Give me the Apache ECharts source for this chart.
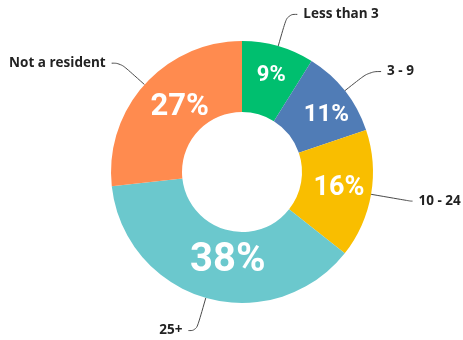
<!DOCTYPE html>
<html>
<head>
<meta charset="utf-8">
<script src="https://cdn.jsdelivr.net/npm/echarts@6/dist/echarts.min.js"></script>
<style>
  html, body { margin: 0; padding: 0; background: #ffffff; }
  #chart { width: 463px; height: 340px; }
</style>
</head>
<body>
<div id="chart"></div>
<script>
// Years of residence, share of respondents (%)
const categories = ['Less than 3', '3 - 9', '10 - 24', '25+', 'Not a resident'];
const shares = [9, 11, 16, 38, 27];

// Slice colours and label styling, one entry per category
const sliceColors = ['#00bf6f', '#507cb6', '#f9be00', '#6bc8cd', '#ff8b4f'];
const pctFontSizes = [22, 24, 27, 40, 31];
const pctNudges = [[2, -2], [7, 4], [0, -1], [13, -6], [11, 1]];
const leaderLengths = [33, 31, 40, 34, 32];
const leaderTails = [10, 12, 2, 8, 9];

const ring = { center: [242, 172], radius: [60, 131] };

const chart = echarts.init(document.getElementById('chart'), null, { renderer: 'canvas' });

chart.setOption({
  animation: false,
  backgroundColor: '#ffffff',
  series: [
    {
      // ring with category names on curved leader lines
      type: 'pie',
      center: ring.center,
      radius: ring.radius,
      startAngle: 90,
      clockwise: true,
      avoidLabelOverlap: false,
      silent: true,
      data: categories.map((name, i) => ({
        name: name,
        value: shares[i],
        itemStyle: { color: sliceColors[i] },
        labelLine: { length: leaderLengths[i], length2: leaderTails[i] }
      })),
      label: {
        show: true,
        position: 'outside',
        formatter: '{b}',
        color: '#222222',
        fontFamily: '"Open Sans", sans-serif',
        fontWeight: 'bold',
        fontSize: 13.5,
        distanceToLabelLine: 6
      },
      labelLine: {
        show: true,
        smooth: 0.45,
        lineStyle: { color: '#4a4a4a', width: 1 }
      }
    },
    {
      // percentage labels placed inside each slice
      type: 'pie',
      center: ring.center,
      radius: ring.radius,
      startAngle: 90,
      clockwise: true,
      silent: true,
      data: categories.map((name, i) => ({
        name: name,
        value: shares[i],
        label: { fontSize: pctFontSizes[i], offset: pctNudges[i] }
      })),
      itemStyle: { color: 'rgba(0,0,0,0)' },
      label: {
        show: true,
        position: 'inside',
        formatter: '{c}%',
        color: '#ffffff',
        fontFamily: 'Roboto, sans-serif',
        fontWeight: 'bold'
      },
      labelLine: { show: false }
    }
  ]
});
</script>
</body>
</html>
